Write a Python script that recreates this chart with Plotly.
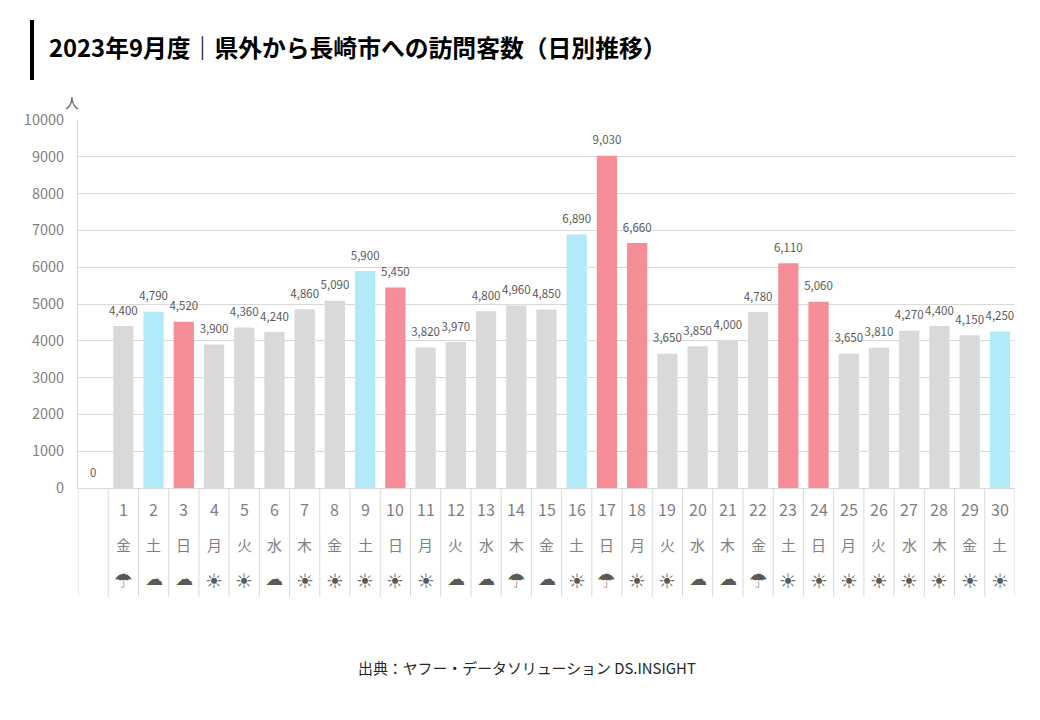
import plotly.graph_objects as go

# 先頭は空の項目(値0)
days = ["", "1", "2", "3", "4", "5", "6", "7", "8", "9", "10", "11", "12", "13", "14", "15",
        "16", "17", "18", "19", "20", "21", "22", "23", "24", "25", "26", "27", "28", "29", "30"]
weekdays = ["", "金", "土", "日", "月", "火", "水", "木", "金", "土", "日", "月", "火", "水", "木", "金",
            "土", "日", "月", "火", "水", "木", "金", "土", "日", "月", "火", "水", "木", "金", "土"]
weather = ["", "☂", "☁", "☁", "☀", "☀", "☁", "☀", "☀", "☀", "☀", "☀", "☁", "☁", "☂", "☁",
           "☀", "☂", "☀", "☀", "☁", "☁", "☂", "☀", "☀", "☀", "☀", "☀", "☀", "☀", "☀"]
visitors = [0, 4400, 4790, 4520, 3900, 4360, 4240, 4860, 5090, 5900, 5450, 3820, 3970, 4800, 4960, 4850,
            6890, 9030, 6660, 3650, 3850, 4000, 4780, 6110, 5060, 3650, 3810, 4270, 4400, 4150, 4250]
# w=平日 s=土曜 h=日祝
day_types = ["w", "w", "s", "h", "w", "w", "w", "w", "w", "s", "h", "w", "w", "w", "w", "w",
             "s", "h", "h", "w", "w", "w", "w", "h", "h", "w", "w", "w", "w", "w", "s"]
y_ticks = [0, 1000, 2000, 3000, 4000, 5000, 6000, 7000, 8000, 9000, 10000]

FONT = "Noto Sans CJK JP"
TYPE_COLORS = {"w": "#D9D9D9", "s": "#B3EAFA", "h": "#F58E96"}
GRID = "#D9D9D9"
# 天気記号ごとの文字サイズと縦位置
GLYPH_STYLE = {"☀": (20, 581), "☁": (18, 578), "☂": (21, 581), "": (17, 581)}

W, H = 1040, 720
PAGE = 8  # ページ本体の余白
M_L, M_R, M_T, M_B = 70, 33, 112, 240
plot_h = H - M_T - M_B
plot_w = W - M_L - M_R


def px_x(px):
    return (px - PAGE - M_L) / plot_w


def px_y(py):
    return (H - M_B - (py - PAGE)) / plot_h


x = list(range(len(days)))
labels = ["0" if v == 0 else f"{v:,}" for v in visitors]

fig = go.Figure()
fig.add_trace(go.Bar(
    x=x, y=visitors, width=0.67,
    marker=dict(color=[TYPE_COLORS[t] for t in day_types], line_width=0),
    hoverinfo="x+y",
))
# データラベル(透明マーカーで棒から少し離す)
fig.add_trace(go.Scatter(
    x=x, y=visitors, mode="markers+text", text=labels, textposition="top center",
    marker=dict(size=12, opacity=0),
    textfont=dict(family=FONT, size=11.5, color="#595959"),
    hoverinfo="skip",
))

annotations = []
for i, (d, wd, we) in enumerate(zip(days, weekdays, weather)):
    annotations.append(dict(x=i, y=px_y(509), xref="x", yref="paper", text=d, showarrow=False,
                            yanchor="middle", font=dict(family=FONT, size=16, color="#7F7F7F")))
    annotations.append(dict(x=i, y=px_y(544), xref="x", yref="paper", text=wd, showarrow=False,
                            yanchor="middle", font=dict(family=FONT, size=15, color="#7F7F7F")))
    size, py = GLYPH_STYLE[we]
    annotations.append(dict(x=i, y=px_y(py), xref="x", yref="paper", text=we, showarrow=False,
                            yanchor="middle", font=dict(family="DejaVu Sans", size=size, color="#595959")))

annotations.append(dict(x=px_x(46.5), y=px_y(47), xref="paper", yref="paper",
                        text="<b>2023年9月度｜県外から長崎市への訪問客数（日別推移）</b>",
                        showarrow=False, xanchor="left", yanchor="middle",
                        font=dict(family=FONT, size=23.8, color="#000000")))
annotations.append(dict(x=px_x(72), y=px_y(102), xref="paper", yref="paper", text="人", showarrow=False,
                        xanchor="center", yanchor="middle", font=dict(family=FONT, size=14, color="#595959")))
annotations.append(dict(x=px_x(526.5), y=px_y(667), xref="paper", yref="paper",
                        text="出典：ヤフー・データソリューション DS.INSIGHT", showarrow=False,
                        yanchor="middle", font=dict(family=FONT, size=14.9, color="#262626")))

shapes = []
# 日付の区切り線
for i in range(len(days) + 1):
    shapes.append(dict(type="line", x0=i - 0.5, x1=i - 0.5, y0=px_y(597), y1=0, xref="x", yref="paper",
                       line=dict(color=GRID, width=1), layer="below"))
# タイトル左の黒帯
shapes.append(dict(type="rect", x0=px_x(30), x1=px_x(34), y0=px_y(80), y1=px_y(20),
                   xref="paper", yref="paper", fillcolor="#000000", line_width=0))

fig.update_layout(
    width=W, height=H,
    margin=dict(l=M_L, r=M_R, t=M_T, b=M_B),
    paper_bgcolor="white", plot_bgcolor="white",
    showlegend=False,
    font=dict(family=FONT),
    xaxis=dict(range=[-0.5, len(days) - 0.5], showticklabels=False, showgrid=False, zeroline=False,
               ticks="", showline=True, linecolor=GRID),
    yaxis=dict(range=[0, 10000], tickvals=y_ticks, tickformat="d", showgrid=True, gridcolor=GRID, gridwidth=1,
               zeroline=False, showline=True, linecolor=GRID, ticks="", ticklabelstandoff=10,
               tickfont=dict(family=FONT, size=14.5, color="#7F7F7F")),
    annotations=annotations,
    shapes=shapes,
)

fig.write_html("out.html")
